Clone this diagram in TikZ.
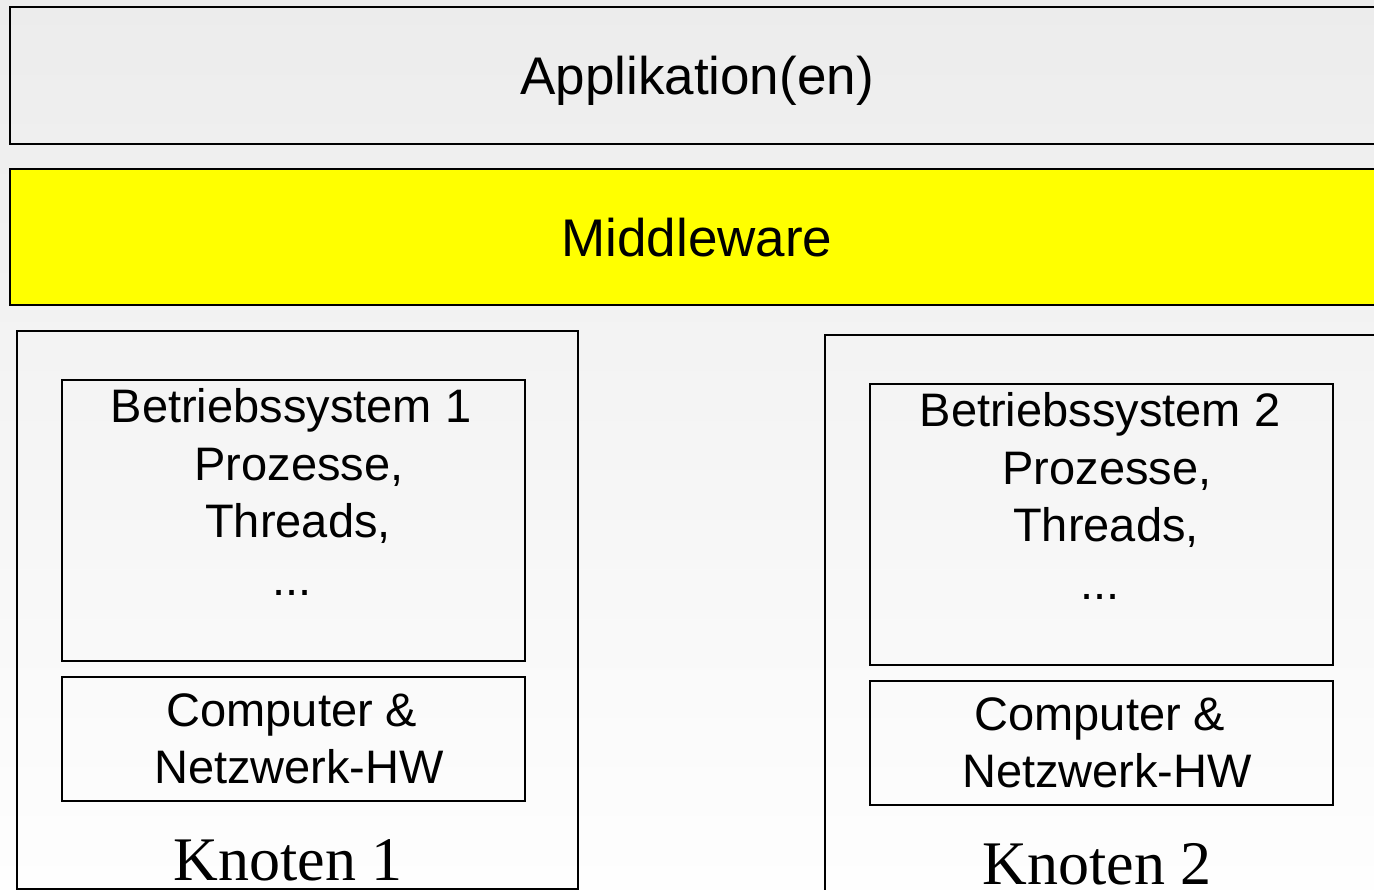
\documentclass[tikz,border=0pt]{standalone}
\usepackage{fontspec}
\setmainfont{Liberation Sans}
\newfontfamily\serifk{Liberation Serif}
\definecolor{bgtop}{RGB}{236,236,236}
\definecolor{bgbot}{RGB}{254,254,254}
\definecolor{mwyellow}{RGB}{255,255,0}
\begin{document}
\begin{tikzpicture}[x=1pt,y=-1pt,
  box/.style={draw=black, line width=2pt, inner sep=0pt, anchor=north west},
  txt/.style={inner sep=0pt, anchor=base, font=\fontsize{47}{57}\selectfont},
  big/.style={inner sep=0pt, anchor=base, font=\fontsize{53}{60}\selectfont},
  knot/.style={inner sep=0pt, anchor=base, font=\serifk\fontsize{62}{70}\selectfont}]
\useasboundingbox (0,0) rectangle (1374,890);
\shade[top color=bgtop, bottom color=bgbot] (0,0) rectangle (1374,890);
\clip (0,0) rectangle (1374,890);
% layers
\node[box, minimum width=1380pt, minimum height=137pt] (app) at (9,6) {};
\node[box, fill=mwyellow, minimum width=1380pt, minimum height=136pt] (mw) at (9,168) {};
\node[big] (tapp) at (697,95) {Applikation(en)};
\node[big] (tmw) at (697,257) {Middleware};
% node 1
\node[box, minimum width=561pt, minimum height=558pt] (k1) at (16,330) {};
\node[box, minimum width=463pt, minimum height=281pt] (bs1) at (61,379) {};
\node[box, minimum width=463pt, minimum height=124pt] (hw1) at (61,676) {};
\node[txt] (bs1a) at (291,423) {Betriebssystem 1};
\node[txt] (bs1b) at (299,480) {Prozesse,};
\node[txt] (bs1c) at (298,537) {Threads,};
\node[txt] (bs1d) at (292,595) {...};
\node[txt] (hw1a) at (292,726) {Computer \&};
\node[txt] (hw1b) at (299,783) {Netzwerk-HW};
\node[knot] (kn1) at (288,880) {Knoten 1};
% node 2
\node[box, minimum width=600pt, minimum height=600pt] (k2) at (824,334) {};
\node[box, minimum width=463pt, minimum height=281pt] (bs2) at (869,383) {};
\node[box, minimum width=463pt, minimum height=124pt] (hw2) at (869,680) {};
\node[txt] (bs2a) at (1100,427) {Betriebssystem 2};
\node[txt] (bs2b) at (1107,484) {Prozesse,};
\node[txt] (bs2c) at (1106,541) {Threads,};
\node[txt] (bs2d) at (1100,599) {...};
\node[txt] (hw2a) at (1100,730) {Computer \&};
\node[txt] (hw2b) at (1107,787) {Netzwerk-HW};
\node[knot] (kn2) at (1097,884) {Knoten 2};
\end{tikzpicture}
\end{document}
